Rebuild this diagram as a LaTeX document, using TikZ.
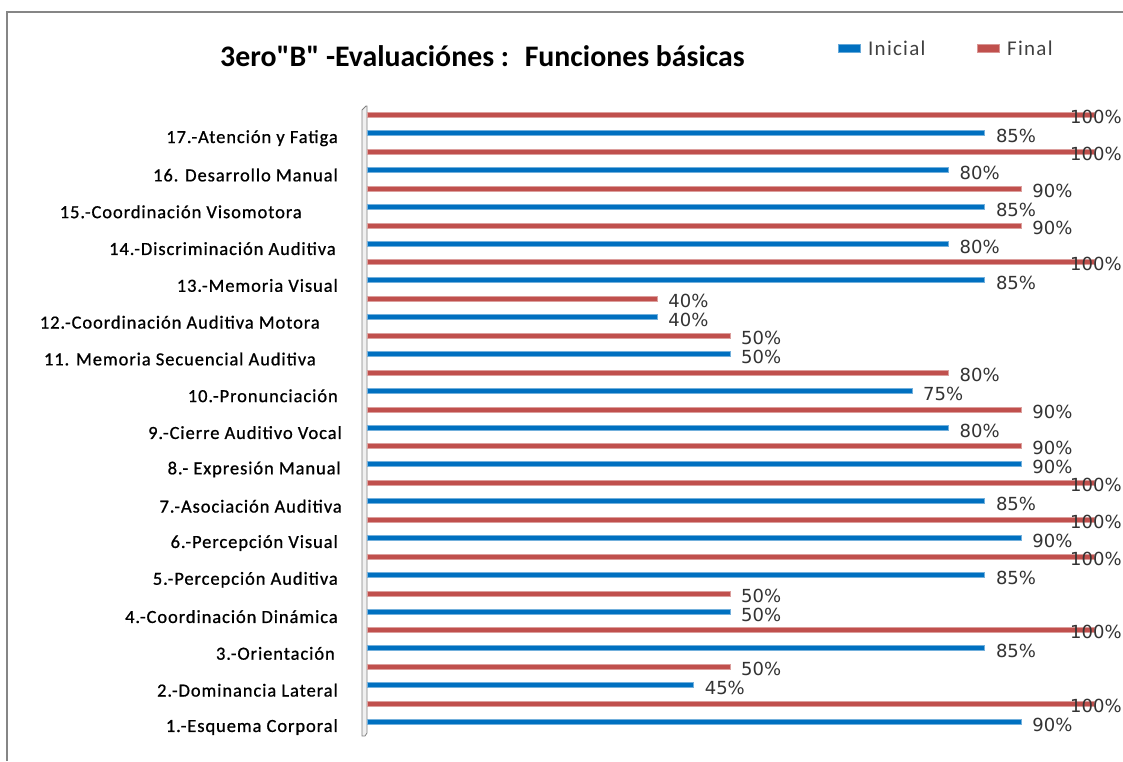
\documentclass[tikz,border=0pt]{standalone}
\usepackage{fontspec}
\setmainfont{Carlito}
\newfontfamily\valfont{DejaVu Sans}
\newfontfamily\titlefont[Ligatures=TeXOff]{Carlito}
\newfontfamily\legfont[LetterSpace=6]{Carlito}
\newfontfamily\catfont[LetterSpace=5,FakeBold=0.8]{Carlito}
\definecolor{inicialblue}{RGB}{0,112,192}
\definecolor{finalred}{RGB}{192,80,77}
\definecolor{framegray}{RGB}{134,134,134}

\begin{document}
\begin{tikzpicture}[x=1pt, y=-1pt,
  bar/.style={line width=1pt},
  catlabel/.style={anchor=east, inner sep=0pt, font=\catfont\fontsize{18.5}{18.5}\selectfont},
  vallabel/.style={anchor=west, inner sep=0pt, text=black!80, font=\valfont\fontsize{18}{18}\selectfont},
  leglabel/.style={anchor=west, inner sep=0pt, text=black!75, font=\legfont\fontsize{21}{21}\selectfont}]

\useasboundingbox (0,0) rectangle (1123,761);

% Frame
\draw[framegray, line width=2pt] (7,761) -- (7,12) -- (1123,12);

% Title
\node[anchor=west, inner sep=0pt, font=\titlefont\bfseries\fontsize{29.8}{29.8}\selectfont] (title) at (220,56) {3ero"B" -Evaluaciónes :~ Funciones básicas};

% Legend
\filldraw[fill=inicialblue, draw=inicialblue!60] (838,44) rectangle (860,52);
\node[leglabel] (leginicial) at (868,48) {Inicial};
\filldraw[fill=finalred, draw=finalred!60] (977,44) rectangle (999,52);
\node[leglabel] (legfinal) at (1007,48) {Final};

% Axis
\filldraw[fill=black!6, draw=black!50, line width=0.8pt] (362,736) -- (362,110) -- (366,106) -- (367,106) -- (367,733) -- (365,736) -- cycle;

% Bars and labels
\foreach \k/\ini/\fin/\lx/\txt in {
  1/90/100/338/{1.-Esquema Corporal},
  2/45/50/338/{2.-Dominancia Lateral},
  3/85/100/335/{3.-Orientación},
  4/50/50/338/{4.-Coordinación Dinámica},
  5/85/100/338/{5.-Percepción Auditiva},
  6/90/100/338/{6.-Percepción Visual},
  7/85/100/342/{7.-Asociación Auditiva},
  8/90/90/341/{8.- Expresión Manual},
  9/80/90/342/{9.-Cierre Auditivo Vocal},
  10/75/80/338/{10.-Pronunciación},
  11/50/50/316/{11. Memoria Secuencial Auditiva},
  12/40/40/320/{12.-Coordinación Auditiva Motora},
  13/85/100/338/{13.-Memoria Visual},
  14/80/90/336/{14.-Discriminación Auditiva},
  15/85/90/302/{15.-Coordinación Visomotora},
  16/80/100/338/{16. Desarrollo Manual},
  17/85/100/338/{17.-Atención y Fatiga}}{
  \pgfmathsetmacro{\yini}{722-(\k-1)*36.8}
  \pgfmathsetmacro{\yfin}{\yini-18}
  \pgfmathsetmacro{\endini}{366+7.28*\ini}
  \pgfmathsetmacro{\endfin}{366+7.28*\fin}
  \pgfmathsetmacro{\tini}{min(\endini+11,1070)}
  \pgfmathsetmacro{\tfin}{min(\endfin+11,1070)}
  \filldraw[bar, fill=finalred, draw=finalred!55] (367,\yfin-2.5) rectangle (\endfin,\yfin+2.5);
  \filldraw[bar, fill=inicialblue, draw=inicialblue!55] (367,\yini-2.5) rectangle (\endini,\yini+2.5);
  \node[vallabel] (fin\k) at (\tfin,\yfin+2) {\fin\%};
  \node[vallabel] (ini\k) at (\tini,\yini+3) {\ini\%};
  \node[catlabel] (cat\k) at (\lx,\yini+5) {\txt};
}

\end{tikzpicture}
\end{document}
